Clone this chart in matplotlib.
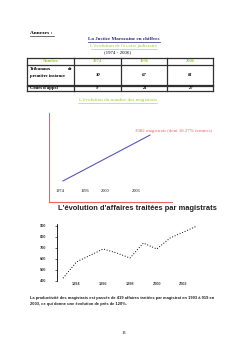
import matplotlib
matplotlib.use("Agg")
import matplotlib.pyplot as plt

# page size in pixels
W, H = 248, 351

# table data
table_header = ["Nombre", "1974", "1996", "2006"]
table_rows = ["Tribunaux de\npremière instance", "Cours d'appel"]
table_1974 = [30, 9]
table_1996 = [67, 21]
table_2006 = [81, 27]

# evolution du nombre des magistrats
mag_years = [1974, 2006]
mag_values = [970, 3082]
mag_tick_years = [1972.9, 1982.1, 1989.4, 2000.8]
mag_tick_labels = ["1974", "1996", "2000", "2006"]

# affaires traitees par magistrat
aff_years = [1993, 1994, 1995, 1996, 1997, 1998, 1999, 2000, 2001, 2002, 2003]
aff_values = [425, 573, 632, 691, 655, 609, 745, 691, 791, 845, 900]
aff_xticks = [1994, 1996, 1998, 2000, 2002]
aff_yticks = [400, 500, 600, 700, 800, 900]

GREEN = "#9acd32"
NAVY = "#262680"
RED = "#ee6464"
BLUE = "#5858b4"
SERIF = "Liberation Serif"
SANS = "Liberation Sans"


def rect(x0, y0, x1, y1):
    # pixel box -> figure fraction
    return [x0 / W, 1 - y1 / H, (x1 - x0) / W, (y1 - y0) / H]


fig = plt.figure(figsize=(W / 100, H / 100), dpi=100)
page = fig.add_axes([0, 0, 1, 1])
page.set_xlim(0, W)
page.set_ylim(H, 0)
page.axis("off")

# en-tete
page.text(30, 33, "Annexes :", family=SERIF, weight="bold", fontsize=3.8, va="center")
page.plot([30, 54], [35.5, 35.5], color="black", lw=0.4)
page.text(124, 39, "La Justice Marocaine en chiffres", family=SERIF, weight="bold",
          fontsize=3.7, color=NAVY, ha="center", va="center")
page.plot([88, 160], [42, 42], color=NAVY, lw=0.5)
page.text(124, 46, "L'évolution de la carte judiciaire", family=SERIF, fontsize=3.7,
          color=GREEN, ha="center", va="center")
page.plot([91, 157], [48.5, 48.5], color=GREEN, lw=0.4)
page.text(118, 52, "(1974 - 2006)", family=SERIF, fontsize=3.5, ha="center", va="center")

# tableau
cols = [27, 74, 121, 167, 213]
rows = [58, 64.5, 84.5, 85.5, 91]
for x in cols:
    page.plot([x, x], [rows[0], rows[-1]], color="#303030", lw=0.9)
for y in rows:
    page.plot([cols[0], cols[-1]], [y, y], color="#303030", lw=0.9)
centers = [(cols[i] + cols[i + 1]) / 2 for i in range(4)]
for cx, lab in zip(centers, table_header):
    page.text(cx, 61.3, lab, family=SERIF, weight="bold", fontsize=3.3, color=GREEN,
              ha="center", va="center")
row_y = [74.5, 88.3]
page.text(29.5, 69.5, "Tribunaux", family=SERIF, weight="bold", fontsize=3.3, va="center")
page.text(72, 69.5, "de", family=SERIF, weight="bold", fontsize=3.3, va="center", ha="right")
page.text(29.5, 76, "première instance", family=SERIF, weight="bold", fontsize=3.3, va="center")
page.text(29.5, row_y[1], table_rows[1], family=SERIF, weight="bold", fontsize=3.3, va="center")
for i in range(2):
    for cx, v in zip(centers[1:], [table_1974[i], table_1996[i], table_2006[i]]):
        page.text(cx, row_y[i] + (0.6 if i == 0 else 0), str(v), family=SERIF, weight="bold",
                  style="italic", fontsize=3.3, ha="center", va="center")

page.text(118, 100, "L'évolution du nombre des magistrats", family=SERIF, fontsize=3.7,
          color=GREEN, ha="center", va="center")
page.plot([78, 157], [102.5, 102.5], color=GREEN, lw=0.4)

# graphique 1 : magistrats
ax1 = fig.add_axes(rect(49, 113, 172, 202))
ax1.plot(mag_years, mag_values, color=BLUE, lw=0.8)
ax1.set_xlim(1968.85, 2014.1)
ax1.set_ylim(0, 4100)
for s in ["top", "right"]:
    ax1.spines[s].set_visible(False)
for s in ["left", "bottom"]:
    ax1.spines[s].set_color(RED)
    ax1.spines[s].set_linewidth(0.8)
ax1.set_xticks([])
ax1.set_yticks([])
ax1.patch.set_alpha(0)
for yr, lab in zip(mag_tick_years, mag_tick_labels):
    ax1.text(yr, 0.125, lab, transform=ax1.get_xaxis_transform(), family=SERIF,
             fontsize=3.2, ha="center", va="center")
ax1.annotate("3082 magistrats (dont 18.27% femmes)", (mag_years[-1], mag_values[-1]),
             xytext=(135, 131), textcoords=page.transData, family=SERIF, fontsize=3.5,
             color=RED, va="center", annotation_clip=False)

# graphique 2 : affaires traitees
page.text(58, 209, "L'évolution d'affaires traitées par magistrats", family=SANS,
          weight="bold", fontsize=5.4, va="center", color="#202020")
ax2 = fig.add_axes(rect(57, 224, 205, 281))
ax2.plot(aff_years, aff_values, color="black", lw=0.7, ls=(0, (1, 1.8)))
ax2.set_xlim(1992.55, 2003.6)
ax2.set_ylim(400, 918)
ax2.set_xticks(aff_xticks)
ax2.set_yticks(aff_yticks)
ax2.tick_params(axis="x", length=0, pad=0.8, labelsize=2.8, labelcolor="#404040")
ax2.tick_params(axis="y", length=1.5, width=0.4, pad=6, labelsize=2.8, labelcolor="#404040")
for lab in ax2.get_xticklabels() + ax2.get_yticklabels():
    lab.set_family(SANS)
    lab.set_weight("bold")
for s in ["top", "right", "bottom"]:
    ax2.spines[s].set_visible(False)
ax2.spines["left"].set_linewidth(0.6)
ax2.patch.set_alpha(0)

page.text(30, 298, "La productivité des magistrats est passée de 419 affaires traitées par magistrat en 1993 à 919 en",
          family=SANS, weight="bold", fontsize=2.9, va="center", color="#202020")
page.text(30, 304, "2003, ce qui donne une évolution de près de 120%.",
          family=SANS, weight="bold", fontsize=2.9, va="center", color="#202020")

page.text(124, 333, "13", family=SERIF, fontsize=3.3, ha="center", va="center")

fig.savefig("out.png", dpi=100)
